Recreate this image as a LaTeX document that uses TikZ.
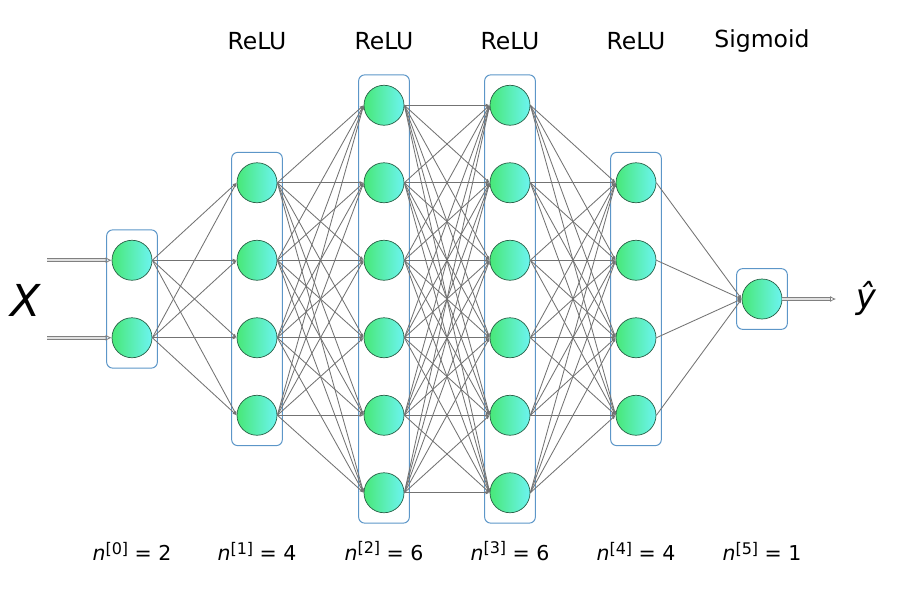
\documentclass[tikz,border=0pt]{standalone}
\usepackage{fontspec}
\setmainfont{DejaVu Sans}
\usetikzlibrary{fit,arrows.meta}
\definecolor{nleft}{RGB}{72,232,120}
\definecolor{nright}{RGB}{108,244,240}
\definecolor{nborder}{RGB}{40,95,70}
\definecolor{boxblue}{RGB}{92,150,200}
\def\ysep{77.5}
\def\ymid{299}
\begin{document}
\begin{tikzpicture}[x=1pt, y=-1pt]
	\tikzstyle{neuron}=[circle,minimum size=40pt,inner sep=0pt,draw=nborder,line width=0.7pt,left color=nleft,right color=nright]
	\tikzstyle{layerbox}=[draw=boxblue,line width=1pt,rounded corners=6pt,inner xsep=5pt,inner ysep=10pt]
	\tikzstyle{conn}=[draw=black!55,line width=0.85pt,-{Latex[open,length=4pt,width=3.5pt]}]
	\tikzstyle{ioarrow}=[draw=black!50,line width=0.8pt,double=black!12,double distance=2pt,-{Latex[open,length=6pt,width=6pt]}]
	\tikzstyle{actlabel}=[font=\fontsize{23.5}{27}\selectfont]
	\tikzstyle{sizelabel}=[font=\fontsize{20.5}{24}\selectfont]
	\useasboundingbox (0,0) rectangle (900,600);
	% neurons and layer boxes
	\foreach \lx/\n [count=\l from 0] in {132/2,257/4,384/6,510/6,636/4,762/1}{
		\foreach \i in {1,...,\n}
			\node[neuron] (n-\l-\i) at (\lx, {\ymid+(\i-(\n+1)/2)*\ysep}) {};
		\node[layerbox,fit=(n-\l-1)(n-\l-\n)] (box-\l) {};
	}
	% connections between layers
	\foreach \a/\na/\b/\nb in {0/2/1/4,1/4/2/6,2/6/3/6,3/6/4/4,4/4/5/1}
		\foreach \i in {1,...,\na}
			\foreach \j in {1,...,\nb}
				\draw[conn] (n-\a-\i.east) -- (n-\b-\j.west);
	% input and output
	\coordinate (in-1) at (47,{\ymid-\ysep/2});
	\coordinate (in-2) at (47,{\ymid+\ysep/2});
	\coordinate (out) at (836,\ymid);
	\draw[ioarrow] (in-1) -- (n-0-1.west);
	\draw[ioarrow] (in-2) -- (n-0-2.west);
	\draw[ioarrow] (n-5-1.east) -- (out);
	\node[font=\fontsize{44}{50}\selectfont\itshape] (xlabel) at (26,300) {X};
	\node[font=\fontsize{34}{40}\selectfont\itshape] (yhat) at (866,298) {ŷ};
	% activation labels
	\node[actlabel] (act-1) at (257,41) {ReLU};
	\node[actlabel] (act-2) at (384,41) {ReLU};
	\node[actlabel] (act-3) at (510,41) {ReLU};
	\node[actlabel] (act-4) at (636,41) {ReLU};
	\node[actlabel] (act-5) at (762,41) {Sigmoid};
	% layer sizes
	\foreach \lx/\n [count=\l from 0] in {132/2,257/4,384/6,510/6,636/4,762/1}
		\node[sizelabel] (size-\l) at (\lx,551) {\textit{n}\raisebox{0.55ex}{\fontsize{16}{18}\selectfont[\l]} = \n};
\end{tikzpicture}
\end{document}
